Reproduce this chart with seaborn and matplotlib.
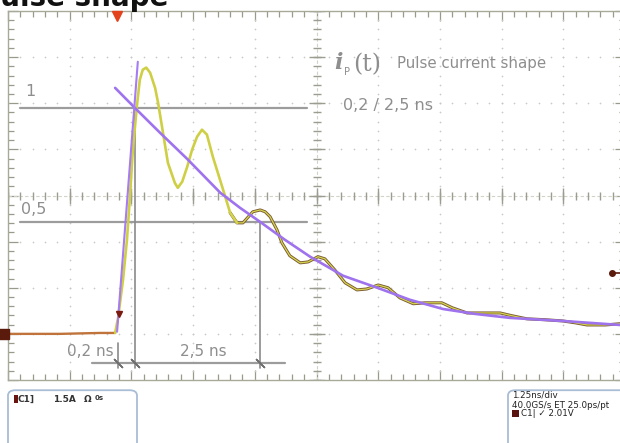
import numpy as np
import pandas as pd
import matplotlib
matplotlib.use("Agg")
import matplotlib.pyplot as plt
import seaborn as sns
from matplotlib.patches import FancyBboxPatch, Rectangle

# ---------------- data (time in ns, current in A; 1.5 A/div, 1.25 ns/div) -------------
trace_t = [0.00, 1.05, 1.86, 2.17, 2.23, 2.33, 2.41, 2.47, 2.53, 2.61, 2.67, 2.73, 2.80,
           2.88, 2.98, 3.04, 3.12, 3.24, 3.38, 3.44, 3.53, 3.63, 3.73, 3.83, 3.93, 4.03,
           4.15, 4.34, 4.50, 4.64, 4.76, 4.96, 5.11, 5.21, 5.31, 5.45, 5.55, 5.71, 5.92,
           6.08, 6.28, 6.42, 6.62, 6.83, 7.07, 7.27, 7.50, 7.70, 7.94, 8.21, 8.45, 8.79,
           9.00, 9.30, 9.66, 9.97, 10.21, 10.51, 10.88, 11.24, 11.49, 11.73, 12.10, 12.40]
trace_i = [0.00, 0.00, 0.03, 0.03, 0.52, 1.76, 3.06, 4.46, 5.99, 7.39, 8.26, 8.59, 8.66,
           8.49, 8.00, 7.52, 6.74, 5.56, 4.91, 4.75, 4.95, 5.43, 5.99, 6.41, 6.64, 6.48,
           5.76, 4.78, 3.94, 3.61, 3.61, 3.97, 4.03, 3.97, 3.81, 3.38, 2.96, 2.54, 2.31,
           2.34, 2.51, 2.44, 2.08, 1.66, 1.43, 1.46, 1.59, 1.50, 1.17, 0.98, 1.01, 1.01,
           0.85, 0.68, 0.68, 0.68, 0.59, 0.49, 0.46, 0.42, 0.36, 0.29, 0.29, 0.33]

fit_t = [2.17, 2.57, 3.08, 3.63, 4.30, 4.70, 5.11, 5.61, 6.12, 6.79, 7.48, 8.14, 8.81,
         9.46, 10.17, 11.24, 12.40]
fit_i = [8.00, 7.35, 6.54, 5.69, 4.59, 4.10, 3.64, 3.06, 2.51, 1.89, 1.50, 1.11, 0.81,
         0.65, 0.52, 0.42, 0.29]

rise_t = [2.21, 2.63]
rise_i = [0.07, 8.85]

level_one = 7.35
level_half = 3.64
t_start, t_peak_ref, t_half = 2.23, 2.57, 5.11
trigger_t = 2.25
trigger_level = 1.98

W, H = 620, 443
sns.set_style("white")
plt.rcParams["font.family"] = ["DejaVu Sans"]

fig = plt.figure(figsize=(W / 100, H / 100), dpi=100)
fig.patch.set_facecolor("white")
ax = fig.add_axes([8 / W, 63 / H, 617 / W, 369 / H])
ax.set_xlim(0, 12.5)
ax.set_ylim(-1.5, 10.5)

frame_col = "#a9a99a"
for s in ax.spines.values():
    s.set_color(frame_col)
    s.set_linewidth(1.0)

ax.set_xticks(np.arange(0, 12.51, 1.25))
ax.set_yticks(np.arange(-1.5, 10.51, 1.5))
ax.set_xticks(np.arange(0, 12.51, 0.25), minor=True)
ax.set_yticks(np.arange(-1.5, 10.51, 0.3), minor=True)
ax.tick_params(which="both", direction="in", top=True, right=True, bottom=True, left=True,
               labelbottom=False, labelleft=False, color="#9a9a8a", width=0.9)
ax.tick_params(which="major", length=7)
ax.tick_params(which="minor", length=4)

# dotted scope graticule
dot_col = "#c9c9c9"
for k in range(1, 10):
    if k == 5:
        continue
    xg = k * 1.25
    ys = np.arange(-1.5, 10.51, 0.3)
    ax.scatter(np.full_like(ys, xg), ys, s=1.5, color=dot_col, linewidths=0, zorder=1)
for k in range(1, 8):
    if k == 4:
        continue
    yg = -1.5 + k * 1.5
    xs = np.arange(0, 12.51, 0.25)
    ax.scatter(xs, np.full_like(xs, yg), s=1.5, color=dot_col, linewidths=0, zorder=1)

# centre axes with ticks
cx, cy = 6.25, 4.5
ax.axhline(cy, color="#d2d2c8", lw=0.8, ls=(0, (3, 2)), zorder=1)
ax.axvline(cx, color="#d2d2c8", lw=0.8, ls=(0, (3, 2)), zorder=1)
xs = np.arange(0, 12.51, 0.25)
ax.plot(xs, np.full_like(xs, cy), ls="none", marker="|", ms=6, mew=1.0, color="#9c9c90", zorder=1)
xs = np.arange(0, 12.51, 1.25)
ax.plot(xs, np.full_like(xs, cy), ls="none", marker="|", ms=11, mew=1.0, color="#9c9c90", zorder=1)
ys = np.arange(-1.5, 10.51, 0.3)
ax.plot(np.full_like(ys, cx), ys, ls="none", marker="_", ms=6, mew=1.0, color="#9c9c90", zorder=1)
ys = np.arange(-1.5, 10.51, 1.5)
ax.plot(np.full_like(ys, cx), ys, ls="none", marker="_", ms=11, mew=1.0, color="#9c9c90", zorder=1)

# annotation lines (grey)
gcol = "#9c9c9c"
ax.plot([0.24, 6.06], [level_one, level_one], color=gcol, lw=1.6, zorder=2)
ax.plot([0.24, 6.06], [level_half, level_half], color=gcol, lw=1.6, zorder=2)
dim_y = -0.94
ax.plot([1.70, 5.61], [dim_y, dim_y], color=gcol, lw=1.6, zorder=2)
ax.plot([t_start, t_start], [-0.29, -1.11], color="#8a8a8a", lw=1.2, zorder=2)
ax.plot([t_peak_ref, t_peak_ref], [level_one, -1.11], color="#8a8a8a", lw=1.2, zorder=2)
ax.plot([t_half, t_half], [level_half, -1.11], color="#8a8a8a", lw=1.2, zorder=2)
ax.plot([t_start, t_peak_ref, t_half], [dim_y] * 3, ls="none", marker=(2, 2, 45), ms=9,
        mew=1.0, color="#707070", zorder=3)

# traces
df = pd.DataFrame({"t": trace_t, "i": trace_i})
base = df[df.t <= 2.17]
early = df[(df.t >= 2.17) & (df.t <= 4.64)]
late = df[df.t >= 4.5]
sns.lineplot(data=base, x="t", y="i", sort=False, estimator=None, color="#c0733a", lw=1.7, ax=ax, zorder=4)
sns.lineplot(data=early, x="t", y="i", sort=False, estimator=None, color="#cfcf45", lw=1.9, ax=ax, zorder=5)
sns.lineplot(data=late, x="t", y="i", sort=False, estimator=None, color="#7a5a32", lw=2.2, ax=ax, zorder=4)
sns.lineplot(data=late, x="t", y="i", sort=False, estimator=None, color="#d6d650", lw=0.9, ax=ax, zorder=5)

fit = pd.DataFrame({"t": fit_t, "i": fit_i})
sns.lineplot(data=fit, x="t", y="i", sort=False, estimator=None, color="#9f72ee", lw=1.9, ax=ax, zorder=6)
rise = pd.DataFrame({"t": rise_t, "i": rise_i})
sns.lineplot(data=rise, x="t", y="i", sort=False, estimator=None, color="#a57cf2", lw=1.5, ax=ax, zorder=6)

# scope markers
ax.plot([trigger_t], [0.65], marker="v", ms=4, color="#7a1a10", ls="none", zorder=7)
ax.plot([trigger_t - 0.05], [10.35], marker="v", ms=7, color="#e2421c", ls="none", clip_on=False, zorder=7)
ax.plot([-0.08], [0.0], marker="s", ms=7, color="#5a1a0c", ls="none", clip_on=False, zorder=7)
ax.plot([12.24, 12.5], [trigger_level, trigger_level], color="#5a1a0c", lw=1.2, clip_on=False, zorder=7)
ax.plot([12.24], [trigger_level], marker="o", ms=4, color="#5a1a0c", ls="none", clip_on=False, zorder=7)
ax.set_xlabel("")
ax.set_ylabel("")


def P(x, y):
    return x / W, 1 - y / H


tcol = "#8e8e8e"
fig.text(*P(-20, 6), "Pulse shape", fontsize=20, fontweight="bold", color="#111111",
         ha="left", va="baseline")
fig.text(*P(25, 91), "1", fontsize=11.5, color=tcol, ha="left", va="center")
fig.text(*P(21, 209), "0,5", fontsize=11.5, color=tcol, ha="left", va="center")
fig.text(*P(114, 352), "0,2 ns", fontsize=11, color=tcol, ha="right", va="center")
fig.text(*P(180, 352), "2,5 ns", fontsize=11, color=tcol, ha="left", va="center")
fig.text(*P(334, 69), "i", fontsize=16, color=tcol, ha="left", va="baseline",
         family="DejaVu Serif", style="italic", fontweight="bold")
fig.text(*P(344, 75), "P", fontsize=7, color=tcol, ha="left", va="baseline")
fig.text(*P(353, 71), "(t)", fontsize=17, color=tcol, ha="left", va="baseline",
         family="DejaVu Serif")
fig.text(*P(397, 68), "Pulse current shape", fontsize=10.8, color=tcol, ha="left", va="baseline")
fig.text(*P(343, 106), "0,2 / 2,5 ns", fontsize=11.5, color=tcol, ha="left", va="center")

# bottom info boxes
bcol = "#a9bdd6"
b1 = FancyBboxPatch((8 / W, -0.05), 129 / W, (H - 388) / H + 0.05 - 0.005,
                    boxstyle="round,pad=0,rounding_size=0.012", transform=fig.transFigure,
                    facecolor="white", edgecolor=bcol, lw=1.3)
fig.add_artist(b1)
b2 = FancyBboxPatch((508 / W, -0.05), 130 / W, (H - 388) / H + 0.05 - 0.005,
                    boxstyle="round,pad=0,rounding_size=0.012", transform=fig.transFigure,
                    facecolor="white", edgecolor=bcol, lw=1.3)
fig.add_artist(b2)
fig.add_artist(Rectangle(P(14, 403), 4 / W, 8 / H, transform=fig.transFigure,
                         facecolor="#6a1410", edgecolor="none"))
ic = "#333333"
fig.text(*P(18, 399), "C1]", fontsize=6.5, color=ic, va="center", ha="left", fontweight="bold")
fig.text(*P(53, 399), "1.5A", fontsize=6.5, color=ic, va="center", ha="left", fontweight="bold")
fig.text(*P(84, 399), "Ω", fontsize=6.5, color=ic, va="center", ha="left", fontweight="bold")
fig.text(*P(95, 398), "0s", fontsize=5, color=ic, va="center", ha="left", fontweight="bold")
fig.text(*P(512, 395), "1.25ns/div", fontsize=6.3, color="#222222", va="center", ha="left")
fig.text(*P(512, 405), "40.0GS/s ET 25.0ps/pt", fontsize=6.3, color="#222222", va="center", ha="left")
fig.add_artist(Rectangle(P(512, 417), 7 / W, 7 / H, transform=fig.transFigure,
                         facecolor="#5a1410", edgecolor="none"))
fig.text(*P(521, 413), "C1| ✓ 2.01V", fontsize=6.3, color="#222222", va="center", ha="left")

fig.savefig("out.png", dpi=100, facecolor="white")
